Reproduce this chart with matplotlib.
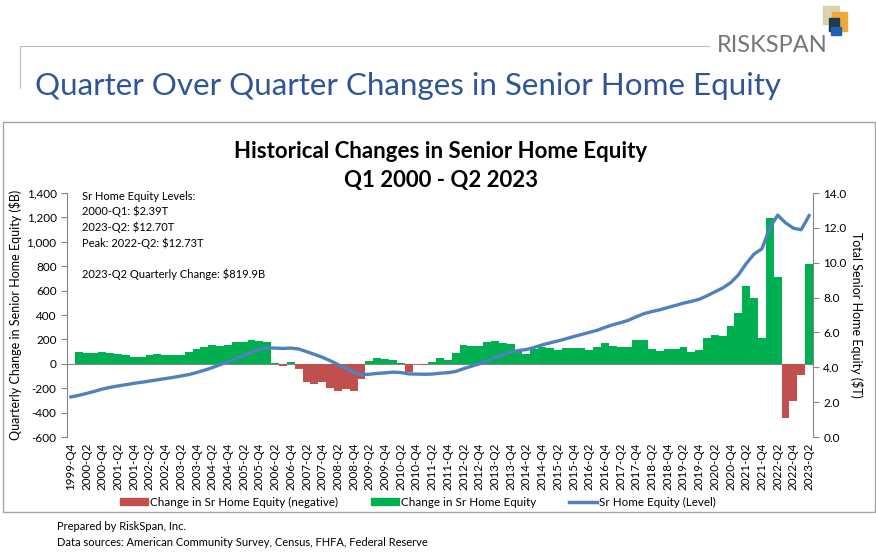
import numpy as np
import matplotlib
matplotlib.use("Agg")
import matplotlib.pyplot as plt
from matplotlib.patches import Rectangle, Patch
from matplotlib.lines import Line2D
from matplotlib.ticker import FuncFormatter

plt.rcParams['font.family'] = ['Lato', 'DejaVu Sans']

# quarters 1999-Q4 .. 2023-Q2
quarters = [f"{y}-Q{q}" for y in range(1999, 2024) for q in range(1, 5)]
quarters = quarters[3:quarters.index("2023-Q2") + 1]

# quarterly change in senior home equity ($B)
change_b = [
    0, 96, 87, 92, 93, 85, 79, 76, 52, 57,
    76, 79, 74, 71, 71, 93, 120, 134, 153, 147,
    156, 177, 180, 197, 188, 182, 3, -16, 14, -44,
    -150, -164, -150, -200, -222, -208, -222, -123, 19, 45,
    40, 33, 5, -65, 2, -12, 11, 50, 28, 90,
    158, 142, 142, 175, 186, 167, 161, 115, 79, 120,
    139, 128, 115, 126, 128, 128, 115, 134, 167, 150,
    140, 140, 191, 191, 123, 101, 123, 125, 134, 93,
    115, 213, 232, 229, 306, 415, 639, 538, 210, 1198,
    715, -445, -308, -90, 820,
]

# total senior home equity ($T)
level_t = [
    2.30, 2.39, 2.50, 2.62, 2.75, 2.85, 2.93, 3.00, 3.08, 3.14,
    3.21, 3.28, 3.35, 3.42, 3.50, 3.58, 3.70, 3.83, 3.98, 4.15,
    4.32, 4.50, 4.68, 4.87, 5.02, 5.12, 5.10, 5.08, 5.10, 5.05,
    4.90, 4.74, 4.58, 4.38, 4.16, 3.94, 3.72, 3.58, 3.60, 3.65,
    3.68, 3.72, 3.70, 3.62, 3.61, 3.60, 3.61, 3.66, 3.69, 3.76,
    3.92, 4.06, 4.20, 4.38, 4.56, 4.72, 4.86, 4.96, 5.02, 5.14,
    5.28, 5.40, 5.51, 5.63, 5.76, 5.88, 6.00, 6.12, 6.29, 6.44,
    6.56, 6.70, 6.90, 7.08, 7.20, 7.30, 7.43, 7.55, 7.68, 7.78,
    7.90, 8.10, 8.33, 8.55, 8.85, 9.30, 9.95, 10.50, 10.80, 12.00,
    12.73, 12.29, 11.98, 11.89, 12.70,
]

notes = [
    "Sr Home Equity Levels:",
    "2000-Q1: $2.39T",
    "2023-Q2: $12.70T",
    "Peak: 2022-Q2: $12.73T",
    "",
    "2023-Q2 Quarterly Change: $819.9B",
]

W, H = 876, 554
RED = "#C0504D"
GREEN = "#00B050"
BLUE = "#4F81BD"
GRAY = "#868686"


def fx(x):
    return x / W


def fy(y):
    return 1 - y / H


fig = plt.figure(figsize=(W / 100, H / 100), dpi=100)

# header
fig.add_artist(Line2D([fx(20), fx(709)], [fy(46), fy(46)], color="#BFBFBF", lw=0.8))
fig.add_artist(Line2D([fx(20), fx(20)], [fy(46), fy(88)], color="#BFBFBF", lw=0.8))
fig.text(fx(772), fy(45), "RISKSPAN", fontsize=17, color="#767676",
         ha="center", va="center")
fig.add_artist(Rectangle((fx(823), fy(24)), 16 / W, 18 / H, color="#D8CFA6", alpha=0.9))
fig.add_artist(Rectangle((fx(832), fy(31)), 15 / W, 19 / H, color="#F0A838"))
fig.add_artist(Rectangle((fx(829), fy(31)), 10 / W, 13 / H, color="#1F3A4F"))
fig.add_artist(Rectangle((fx(831), fy(35)), 10 / W, 8 / H, color="#1F5FB4"))
fig.text(fx(35), fy(86), "Quarter Over Quarter Changes in Senior Home Equity",
         fontsize=22.6, color="#2F5597", ha="left", va="center")

# chart frame
fig.add_artist(Rectangle((fx(3), fy(512)), (875 - 3) / W, (512 - 122) / H,
                         fill=False, edgecolor="#A6A6A6", lw=1.0))

fig.text(fx(441), fy(151), "Historical Changes in Senior Home Equity",
         fontsize=16, fontweight="bold", ha="center", va="center")
fig.text(fx(441), fy(181), "Q1 2000 - Q2 2023",
         fontsize=16, fontweight="bold", ha="center", va="center")

ax = fig.add_axes([fx(67), fy(437), (813 - 67) / W, (437 - 193) / H])
ax2 = ax.twinx()

x = np.arange(len(quarters))
chg = np.array(change_b, dtype=float)
neg = np.where(chg < 0, chg, 0)
pos = np.where(chg > 0, chg, 0)
ax.bar(x, neg, width=1.0, color=RED, zorder=2)
ax.bar(x, pos, width=1.0, color=GREEN, zorder=2)
ax.axhline(0, color=GRAY, lw=0.8, zorder=1)

ax2.plot(x, level_t, color=BLUE, lw=2.4)

ax.set_xlim(-0.5, len(quarters) - 0.5)
ax.set_ylim(-600, 1400)
ax.set_yticks(np.arange(-600, 1401, 200))
ax.yaxis.set_major_formatter(FuncFormatter(lambda v, p: f"{v:,.0f}"))
ax2.set_ylim(0, 14)
ax2.set_yticks(np.arange(0, 14.1, 2))
ax2.yaxis.set_major_formatter(FuncFormatter(lambda v, p: f"{v:.1f}"))

ax.set_xticks(x[::2])
ax.set_xticklabels(quarters[::2], rotation=90, fontsize=8.4)
ax.tick_params(axis="x", length=0, pad=4)
ax.tick_params(axis="y", labelsize=8.5, color=GRAY, length=4)
ax2.tick_params(axis="y", labelsize=8.5, color=GRAY, length=4)

for a in (ax, ax2):
    for s in ("top", "bottom"):
        a.spines[s].set_visible(False)
    a.spines["left"].set_color(GRAY)
    a.spines["right"].set_color(GRAY)
ax.spines["right"].set_visible(False)
ax2.spines["left"].set_visible(False)

ax.set_ylabel("Quarterly Change in Senior Home Equity ($B)", fontsize=9, labelpad=3)
ax2.set_ylabel("Total Senior Home Equity ($T)", fontsize=9, rotation=270, labelpad=12)

ax.text(0.02, 1.01, "\n".join(notes), transform=ax.transAxes, fontsize=8,
        va="top", ha="left", linespacing=1.45)

handles = [
    Patch(color=RED, label="Change in Sr Home Equity (negative)"),
    Patch(color=GREEN, label="Change in Sr Home Equity"),
    Line2D([], [], color=BLUE, lw=2.5, label="Sr Home Equity (Level)"),
]
fig.legend(handles=handles, loc="center", bbox_to_anchor=(fx(418), fy(502)), ncol=3,
           frameon=False, fontsize=8.4, handlelength=2.4, handleheight=0.5,
           columnspacing=2.8, handletextpad=0.2)

fig.text(fx(57), fy(527), "Prepared by RiskSpan, Inc.", fontsize=8, va="center")
fig.text(fx(57), fy(543), "Data sources: American Community Survey, Census, FHFA, Federal Reserve",
         fontsize=8, va="center")

fig.savefig("out.png", dpi=100)
